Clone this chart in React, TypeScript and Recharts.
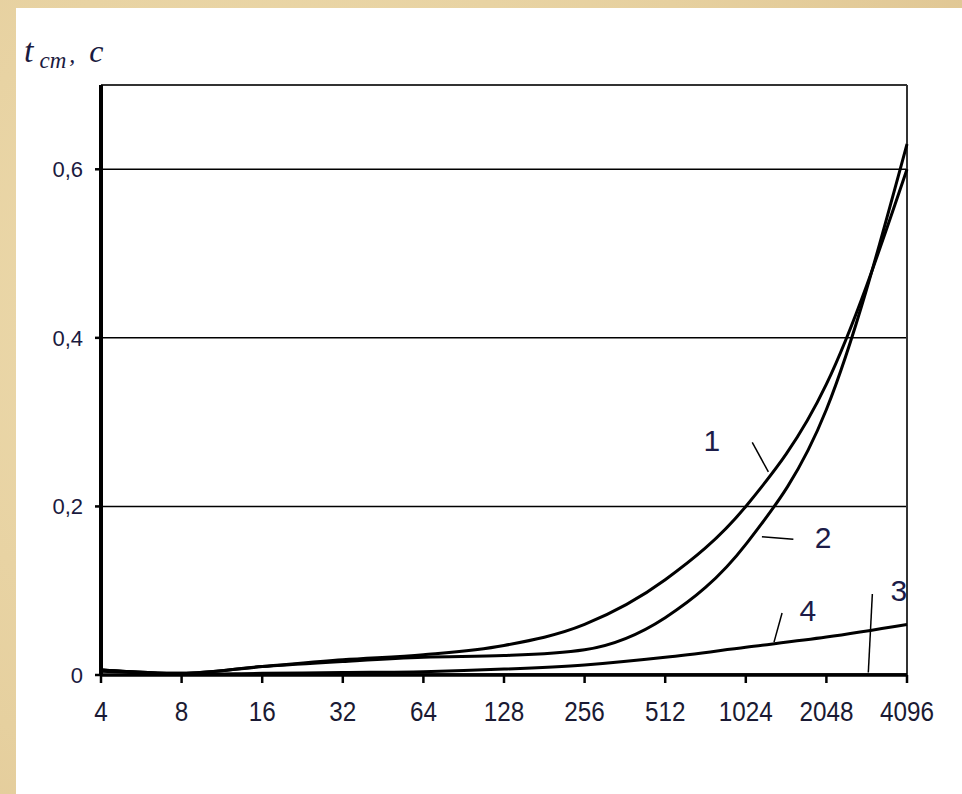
import { CartesianGrid, Line, LineChart, ReferenceDot, ReferenceLine, XAxis, YAxis } from "recharts";

// x positions are log2 of the block size: 4 .. 4096
const sizes = [4, 8, 16, 32, 64, 128, 256, 512, 1024, 2048, 4096];
const curve1 = [0.006, 0.002, 0.01, 0.018, 0.024, 0.035, 0.06, 0.113, 0.2, 0.345, 0.6];
const curve2 = [0.006, 0.002, 0.01, 0.016, 0.021, 0.023, 0.03, 0.068, 0.155, 0.315, 0.63];
const curve3 = [0.004, 0.001, 0.001, 0.001, 0.001, 0.001, 0.001, 0.001, 0.001, 0.001, 0.001];
const curve4 = [0.006, 0.001, 0.002, 0.003, 0.004, 0.007, 0.012, 0.021, 0.033, 0.045, 0.06];
const yTicks = [0, 0.2, 0.4, 0.6];

// curve labels with their leader lines, in data units (log2 size, seconds)
const curveLabels = [
  { text: "1", x: 9.58, y: 0.278, from: [10.08, 0.276], to: [10.28, 0.241] },
  { text: "2", x: 10.96, y: 0.163, from: [10.59, 0.161], to: [10.2, 0.164] },
  { text: "3", x: 11.9, y: 0.101, from: [11.57, 0.096], to: [11.52, 0.003] },
  { text: "4", x: 10.77, y: 0.077, from: [10.45, 0.0735], to: [10.35, 0.039] },
];

const data = sizes.map((size, i) => ({
  lx: Math.log2(size),
  c1: curve1[i],
  c2: curve2[i],
  c3: curve3[i],
  c4: curve4[i],
}));

const xTicks = sizes.map((s) => Math.log2(s));

function SizeTick({ x, y, payload }: any) {
  return (
    <text
      transform={`translate(${x},${y}) scale(0.9,1)`}
      textAnchor="middle"
      dy="0.71em"
      fontSize={27}
      fill="#1a1a33"
      fontFamily="'Liberation Sans', Arial, sans-serif"
    >
      {String(Math.round(2 ** payload.value))}
    </text>
  );
}

export default function App() {
  return (
    <div
      style={{
        position: "fixed",
        left: 0,
        top: 0,
        width: 962,
        height: 794,
        background: "radial-gradient(circle at 30% 40%, #eedcaf 0%, #e6d09f 60%, #dfc592 100%)",
      }}
    >
      <div style={{ position: "absolute", left: 16, top: 8, width: 946, height: 786, background: "#ffffff" }}>
        <div
          style={{
            position: "absolute",
            left: 8,
            top: 24,
            fontFamily: "'Liberation Serif', 'DejaVu Serif', serif",
            fontStyle: "italic",
            color: "#1a1a40",
            whiteSpace: "nowrap",
          }}
        >
          <span style={{ fontSize: 34 }}>t</span>
          <span style={{ fontSize: 23, verticalAlign: "-6px", marginLeft: 6 }}>cm</span>
          <span style={{ fontSize: 24, marginLeft: 3 }}>,</span>
          <span style={{ fontSize: 32, marginLeft: 14 }}>c</span>
        </div>
        <LineChart width={946} height={786} data={data} margin={{ top: 77, right: 55, bottom: 79, left: 0 }}>
          <CartesianGrid vertical={false} stroke="#000" strokeWidth={1.5} />
          <XAxis
            type="number"
            dataKey="lx"
            domain={[2, 12]}
            ticks={xTicks}
            tick={<SizeTick />}
            height={40}
            axisLine={{ stroke: "#000", strokeWidth: 3.5 }}
            tickLine={{ stroke: "#000", strokeWidth: 2.5 }}
            tickSize={8}
            tickMargin={19}
            interval={0}
          />
          <YAxis
            type="number"
            domain={[0, 0.7]}
            ticks={yTicks}
            tickFormatter={(v: number) => (v === 0 ? "0" : v.toFixed(1).replace(".", ","))}
            width={85}
            axisLine={{ stroke: "#000", strokeWidth: 4 }}
            tickLine={{ stroke: "#000", strokeWidth: 2.5 }}
            tickSize={6}
            tickMargin={12}
            tick={{ fill: "#1a1a40", fontSize: 22, fontFamily: "'Liberation Sans', Arial, sans-serif" }}
            interval={0}
          />
          <ReferenceLine y={0.7} stroke="#333" strokeWidth={2} />
          <ReferenceLine x={12} stroke="#333" strokeWidth={2} />
          <Line type="monotone" dataKey="c3" stroke="#000" strokeWidth={2} dot={false} isAnimationActive={false} />
          <Line type="monotone" dataKey="c4" stroke="#000" strokeWidth={3} dot={false} isAnimationActive={false} />
          <Line type="monotone" dataKey="c2" stroke="#000" strokeWidth={3} dot={false} isAnimationActive={false} />
          <Line type="monotone" dataKey="c1" stroke="#000" strokeWidth={3} dot={false} isAnimationActive={false} />
          {curveLabels.map((l) => (
            <ReferenceLine
              key={"leader" + l.text}
              segment={[
                { x: l.from[0], y: l.from[1] },
                { x: l.to[0], y: l.to[1] },
              ]}
              stroke="#000"
              strokeWidth={1.5}
            />
          ))}
          {curveLabels.map((l) => (
            <ReferenceDot
              key={"label" + l.text}
              x={l.x}
              y={l.y}
              r={0}
              fill="none"
              stroke="none"
              label={{
                value: l.text,
                position: "center",
                fontSize: 30,
                fill: "#1c1c48",
                fontFamily: "'Liberation Sans', Arial, sans-serif",
              }}
            />
          ))}
        </LineChart>
      </div>
    </div>
  );
}
